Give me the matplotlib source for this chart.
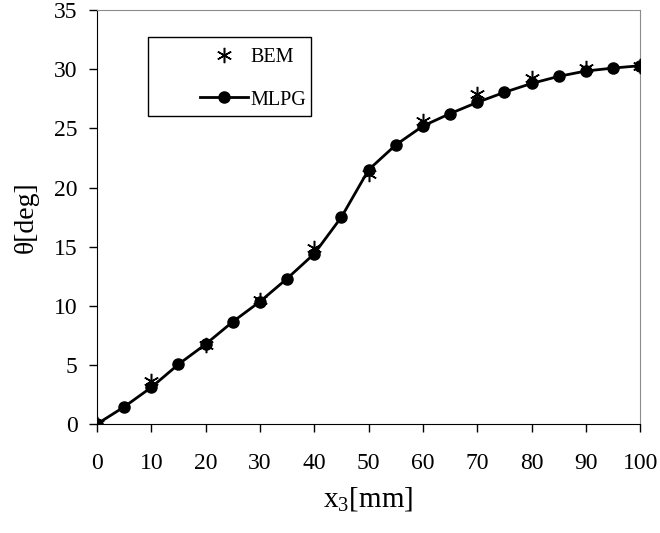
import numpy as np
import matplotlib
matplotlib.use("Agg")
import matplotlib.pyplot as plt
from matplotlib.patches import Rectangle

# --- data ---
x_mlpg = [0, 5, 10, 15, 20, 25, 30, 35, 40, 45, 50, 55, 60, 65, 70, 75, 80, 85, 90, 95, 100]
theta_mlpg = [0.0, 1.45, 3.1, 5.05, 6.75, 8.65, 10.35, 12.3, 14.4, 17.5, 21.5, 23.6, 25.2,
              26.25, 27.2, 28.05, 28.8, 29.4, 29.85, 30.1, 30.3]
x_bem = [0, 10, 20, 30, 40, 50, 60, 70, 80, 90, 100]
theta_bem = [0.0, 3.6, 6.7, 10.5, 14.9, 21.1, 25.6, 27.9, 29.25, 30.1, 30.3]

x_ticks = list(range(0, 101, 10))
y_ticks = list(range(0, 36, 5))

plt.rcParams['font.family'] = ['Liberation Serif', 'DejaVu Serif']
plt.rcParams['mathtext.fontset'] = 'custom'
plt.rcParams['mathtext.rm'] = 'Liberation Serif'

fig = plt.figure(figsize=(6.6, 5.33), dpi=100)
ax = fig.add_axes([0.147, 0.2045, 0.823, 0.7765])

ax.plot(x_mlpg, theta_mlpg, color='black', linewidth=2.0, marker='o',
        markersize=8, label='MLPG', zorder=3)
ax.plot(x_bem, theta_bem, linestyle='none', marker=(6, 2, 0), markersize=11,
        markeredgewidth=1.1, color='black', label='BEM', zorder=4)

ax.set_xlim(0, 100)
ax.set_ylim(0, 35)
ax.set_xticks(x_ticks)
ax.set_yticks(y_ticks)
ax.tick_params(direction='out', length=6, width=1, labelsize=17)
ax.tick_params(axis='x', pad=15)
ax.tick_params(axis='y', pad=8)
for side in ['left', 'bottom']:
    ax.spines[side].set_color('black')
for side in ['top', 'right']:
    ax.spines[side].set_color('#8c8c8c')

ax.set_xlabel(r'x$_{\mathregular{3}}$[mm]', fontsize=21, labelpad=8)
ax.set_ylabel(u'\u03b8[deg]', fontsize=20, labelpad=11)

# legend box
ax.add_patch(Rectangle((0.094, 0.744), 0.30, 0.191, transform=ax.transAxes,
                       fill=False, edgecolor='black', linewidth=1, zorder=5))
h, l = ax.get_legend_handles_labels()
leg = ax.legend([h[1], h[0]], [l[1], l[0]], loc='center left',
                bbox_to_anchor=(0.163, 0.834), frameon=False, fontsize=14.5,
                handlelength=2.4, handletextpad=0.1, labelspacing=1.15,
                borderpad=0.2)

fig.savefig('out.png', dpi=100)
plt.close(fig)
